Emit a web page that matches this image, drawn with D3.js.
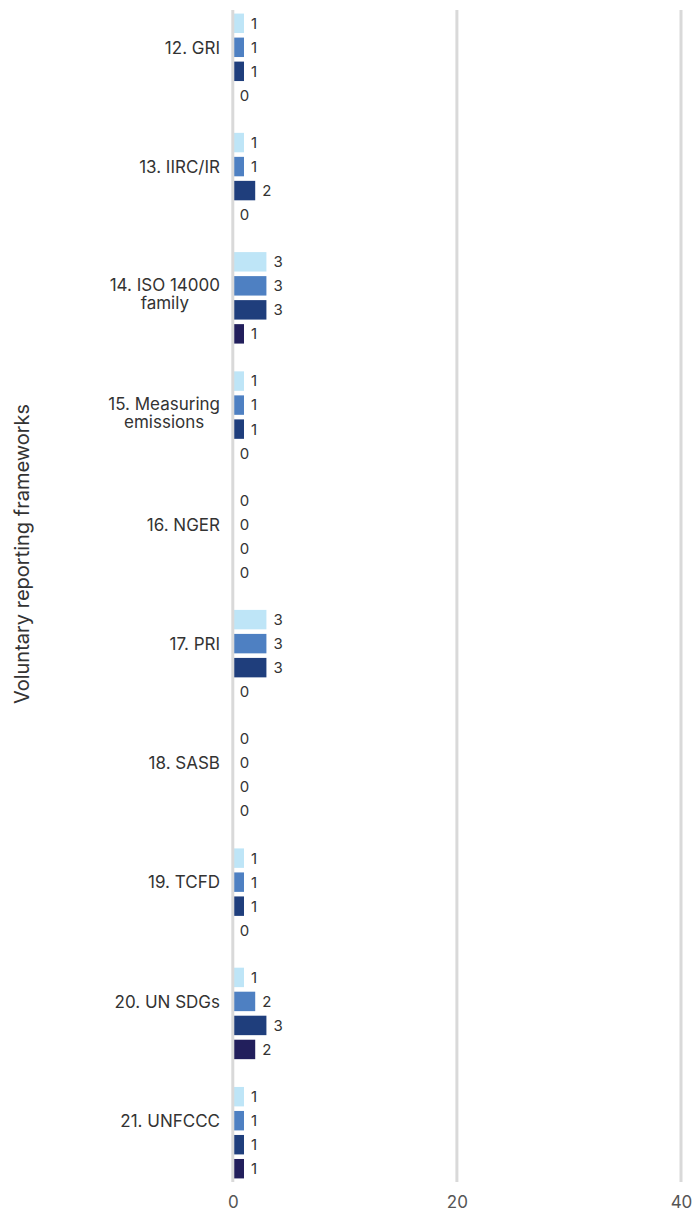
<!DOCTYPE html>
<html>
<head>
<meta charset="utf-8">
<script src="https://cdn.jsdelivr.net/npm/d3@7"></script>
<style>
  html, body { margin: 0; padding: 0; background: #ffffff; }
  svg { display: block; font-family: Inter, "Noto Sans", sans-serif; }
</style>
</head>
<body>
<svg id="chart" width="697" height="1212"></svg>
<script>
// ---- data ----
const categories = [
  "12. GRI",
  "13. IIRC/IR",
  "14. ISO 14000|family",
  "15. Measuring|emissions",
  "16. NGER",
  "17. PRI",
  "18. SASB",
  "19. TCFD",
  "20. UN SDGs",
  "21. UNFCCC"
];
const seriesNames = ["Series 1", "Series 2", "Series 3", "Series 4"];
const series1 = [1, 1, 3, 1, 0, 3, 0, 1, 1, 1];
const series2 = [1, 1, 3, 1, 0, 3, 0, 1, 2, 1];
const series3 = [1, 2, 3, 1, 0, 3, 0, 1, 3, 1];
const series4 = [0, 0, 1, 0, 0, 0, 0, 0, 2, 1];
const xTicks = [0, 20, 40];
const axisTitle = "Voluntary reporting frameworks";

const seriesValues = [series1, series2, series3, series4];
const colors = ["#bee5f7", "#4e80c2", "#1f3e7c", "#221f5c"];

// ---- layout ----
const svg = d3.select("#chart");
const plotTop = 10, plotBottom = 1182;

const x = d3.scaleLinear().domain([0, 40]).range([232.8, 681]);
const y0 = d3.scaleBand().domain(categories).range([plotTop, plotBottom])
  .paddingInner(0.233).paddingOuter(0.03);
const y1 = d3.scaleBand().domain(seriesNames).range([0, y0.bandwidth()])
  .paddingInner(0.19).paddingOuter(0);
const color = d3.scaleOrdinal().domain(seriesNames).range(colors);

const rows = categories.map((c, i) => ({
  cat: c,
  vals: seriesNames.map((s, j) => ({ s, v: seriesValues[j][i] }))
}));

// bars
const groups = svg.append("g").selectAll("g").data(rows).join("g")
  .attr("transform", d => `translate(0,${y0(d.cat)})`);

groups.selectAll("rect").data(d => d.vals).join("rect")
  .attr("x", x(0))
  .attr("y", d => y1(d.s))
  .attr("width", d => x(d.v) - x(0))
  .attr("height", y1.bandwidth())
  .attr("fill", d => color(d.s));

groups.selectAll("text.val").data(d => d.vals).join("text")
  .attr("class", "val")
  .attr("x", d => x(d.v) + 7)
  .attr("y", d => y1(d.s) + y1.bandwidth() / 2)
  .attr("dy", "0.36em")
  .attr("font-size", 15)
  .attr("fill", "#333")
  .text(d => d.v);

// gridlines (drawn over bar starts)
const grid = svg.append("g");
grid.selectAll("line").data(xTicks).join("line")
  .attr("x1", d => x(d)).attr("x2", d => x(d))
  .attr("y1", plotTop).attr("y2", plotBottom)
  .attr("stroke", "#d9d9d9").attr("stroke-width", 3);

// x axis tick labels
const xAxis = d3.axisBottom(x).tickValues(xTicks).tickSize(0).tickPadding(0);
const xg = svg.append("g").attr("transform", `translate(0,${plotBottom})`).call(xAxis);
xg.select(".domain").remove();
xg.selectAll("text")
  .attr("y", 20)
  .attr("dy", "0.36em")
  .attr("font-family", "Inter, 'Noto Sans', sans-serif")
  .attr("font-size", 17)
  .attr("fill", "#555");

// category labels
const catG = svg.append("g");
rows.forEach(r => {
  const lines = r.cat.split("|");
  const t = catG.append("text")
    .attr("font-size", 17)
    .attr("fill", "#333")
    .attr("text-anchor", "middle");
  const lh = 18;
  const cy = y0(r.cat) + y0.bandwidth() * 0.37 + (lines.length - 1) * 8;
  lines.forEach((ln, k) => {
    t.append("tspan")
      .attr("y", cy + (k - (lines.length - 1) / 2) * lh)
      .attr("dy", "0.36em")
      .text(ln);
  });
  let maxW = 0;
  t.selectAll("tspan").each(function () {
    maxW = Math.max(maxW, this.getComputedTextLength());
  });
  t.selectAll("tspan").attr("x", 220 - maxW / 2);
});

// y axis title
svg.append("text")
  .attr("transform", "translate(22,554) rotate(-90)")
  .attr("text-anchor", "middle")
  .attr("dy", "0.36em")
  .attr("font-size", 20)
  .attr("fill", "#333")
  .text(axisTitle);
</script>
</body>
</html>
